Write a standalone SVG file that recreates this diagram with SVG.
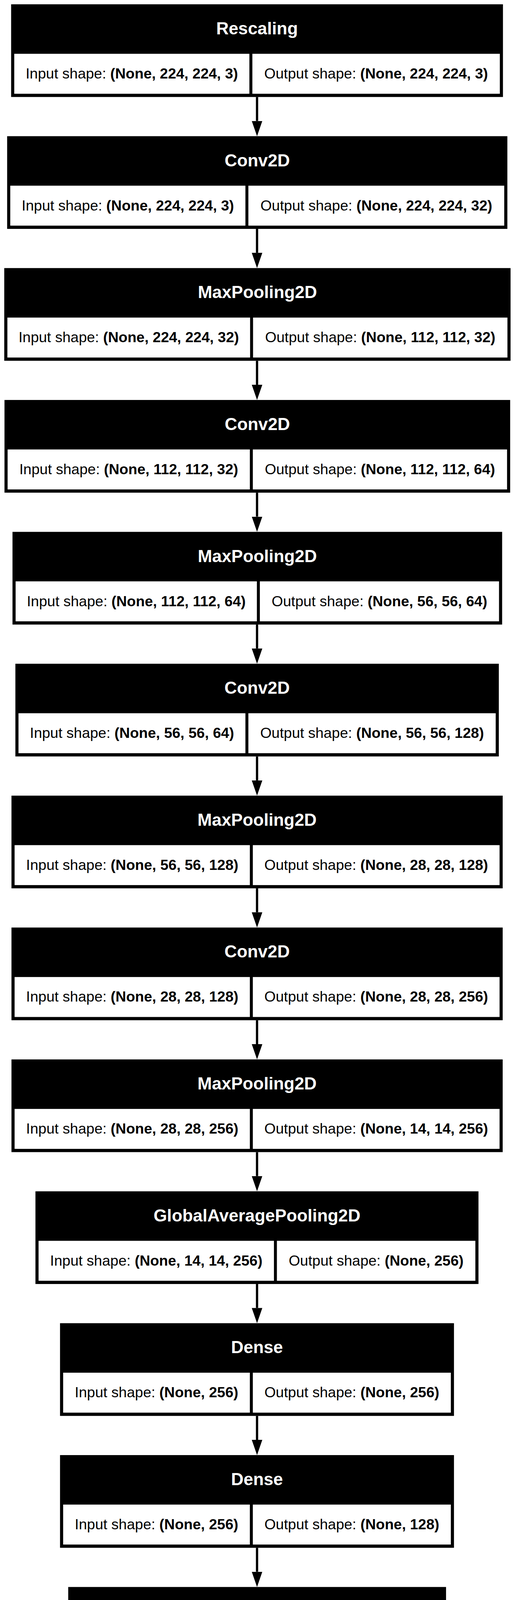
<svg xmlns="http://www.w3.org/2000/svg" width="1317" height="4310" viewBox="0 0 1317 4310">
<defs>
<style>
.box{fill:#000}
.cell{fill:#fff}
.title{font-family:"Liberation Sans",Arial,sans-serif;font-weight:bold;font-size:44.3px;fill:#fff;text-anchor:middle}
.shape{font-family:"Liberation Sans",Arial,sans-serif;font-size:37.5px;fill:#000;text-anchor:middle}
.b{font-weight:bold}
.edge{stroke:#000;stroke-width:5.8;fill:none;marker-end:url(#arrow)}
</style>
<marker id="arrow" markerUnits="userSpaceOnUse" markerWidth="39" markerHeight="27" viewBox="0 0 39 27" refX="0" refY="13.5" orient="auto"><path d="M0,0 L39,13.5 L0,27 z" fill="#000"/></marker>
</defs>
<rect width="1317" height="4310" fill="#fff"/>
<g id="edges">
<line class="edge" x1="658.6" y1="248.3" x2="658.6" y2="309.64"/>
<line class="edge" x1="658.6" y1="585.94" x2="658.6" y2="647.28"/>
<line class="edge" x1="658.6" y1="923.58" x2="658.6" y2="984.92"/>
<line class="edge" x1="658.6" y1="1261.22" x2="658.6" y2="1322.56"/>
<line class="edge" x1="658.6" y1="1598.86" x2="658.6" y2="1660.2"/>
<line class="edge" x1="658.6" y1="1936.5" x2="658.6" y2="1997.84"/>
<line class="edge" x1="658.6" y1="2274.14" x2="658.6" y2="2335.48"/>
<line class="edge" x1="658.6" y1="2611.78" x2="658.6" y2="2673.12"/>
<line class="edge" x1="658.6" y1="2949.42" x2="658.6" y2="3010.76"/>
<line class="edge" x1="658.6" y1="3287.06" x2="658.6" y2="3348.4"/>
<line class="edge" x1="658.6" y1="3624.7" x2="658.6" y2="3686.04"/>
<line class="edge" x1="658.6" y1="3962.34" x2="658.6" y2="4023.68"/>
</g>
<g id="node1">
<rect class="box" x="28.5" y="11" width="1260.2" height="237.3"/>
<rect class="cell" x="36.5" y="137.7" width="602.5" height="102.3"/>
<rect class="cell" x="646.6" y="137.7" width="634.1" height="102.3"/>
<text class="title" x="658.6" y="88">Rescaling</text>
<text class="shape" x="337.75" y="201">Input shape: <tspan class="b">(None, 224, 224, 3)</tspan></text>
<text class="shape" x="963.65" y="201">Output shape: <tspan class="b">(None, 224, 224, 3)</tspan></text>
</g>
<g id="node2">
<rect class="box" x="18.3" y="348.64" width="1281.7" height="237.3"/>
<rect class="cell" x="26.3" y="475.34" width="602.5" height="102.3"/>
<rect class="cell" x="636.4" y="475.34" width="655.6" height="102.3"/>
<text class="title" x="659.15" y="425.64">Conv2D</text>
<text class="shape" x="327.55" y="538.64">Input shape: <tspan class="b">(None, 224, 224, 3)</tspan></text>
<text class="shape" x="964.2" y="538.64">Output shape: <tspan class="b">(None, 224, 224, 32)</tspan></text>
</g>
<g id="node3">
<rect class="box" x="10.9" y="686.28" width="1297.3" height="237.3"/>
<rect class="cell" x="18.9" y="812.98" width="621.9" height="102.3"/>
<rect class="cell" x="648.4" y="812.98" width="651.8" height="102.3"/>
<text class="title" x="659.55" y="763.28">MaxPooling2D</text>
<text class="shape" x="329.85" y="876.28">Input shape: <tspan class="b">(None, 224, 224, 32)</tspan></text>
<text class="shape" x="974.3" y="876.28">Output shape: <tspan class="b">(None, 112, 112, 32)</tspan></text>
</g>
<g id="node4">
<rect class="box" x="11.5" y="1023.92" width="1295.7" height="237.3"/>
<rect class="cell" x="19.5" y="1150.62" width="620.7" height="102.3"/>
<rect class="cell" x="647.8" y="1150.62" width="651.4" height="102.3"/>
<text class="title" x="659.35" y="1100.92">Conv2D</text>
<text class="shape" x="329.85" y="1213.92">Input shape: <tspan class="b">(None, 112, 112, 32)</tspan></text>
<text class="shape" x="973.5" y="1213.92">Output shape: <tspan class="b">(None, 112, 112, 64)</tspan></text>
</g>
<g id="node5">
<rect class="box" x="32" y="1361.56" width="1254.6" height="237.3"/>
<rect class="cell" x="40" y="1488.26" width="618.2" height="102.3"/>
<rect class="cell" x="665.8" y="1488.26" width="612.8" height="102.3"/>
<text class="title" x="659.3" y="1438.56">MaxPooling2D</text>
<text class="shape" x="349.1" y="1551.56">Input shape: <tspan class="b">(None, 112, 112, 64)</tspan></text>
<text class="shape" x="972.2" y="1551.56">Output shape: <tspan class="b">(None, 56, 56, 64)</tspan></text>
</g>
<g id="node6">
<rect class="box" x="39.4" y="1699.2" width="1238.7" height="237.3"/>
<rect class="cell" x="47.4" y="1825.9" width="581.4" height="102.3"/>
<rect class="cell" x="636.4" y="1825.9" width="633.7" height="102.3"/>
<text class="title" x="658.75" y="1776.2">Conv2D</text>
<text class="shape" x="338.1" y="1889.2">Input shape: <tspan class="b">(None, 56, 56, 64)</tspan></text>
<text class="shape" x="953.25" y="1889.2">Output shape: <tspan class="b">(None, 56, 56, 128)</tspan></text>
</g>
<g id="node7">
<rect class="box" x="29.4" y="2036.84" width="1258.6" height="237.3"/>
<rect class="cell" x="37.4" y="2163.54" width="602.8" height="102.3"/>
<rect class="cell" x="647.8" y="2163.54" width="632.2" height="102.3"/>
<text class="title" x="658.7" y="2113.84">MaxPooling2D</text>
<text class="shape" x="338.8" y="2226.84">Input shape: <tspan class="b">(None, 56, 56, 128)</tspan></text>
<text class="shape" x="963.9" y="2226.84">Output shape: <tspan class="b">(None, 28, 28, 128)</tspan></text>
</g>
<g id="node8">
<rect class="box" x="29.4" y="2374.48" width="1258.6" height="237.3"/>
<rect class="cell" x="37.4" y="2501.18" width="602.8" height="102.3"/>
<rect class="cell" x="647.8" y="2501.18" width="632.2" height="102.3"/>
<text class="title" x="658.7" y="2451.48">Conv2D</text>
<text class="shape" x="338.8" y="2564.48">Input shape: <tspan class="b">(None, 28, 28, 128)</tspan></text>
<text class="shape" x="963.9" y="2564.48">Output shape: <tspan class="b">(None, 28, 28, 256)</tspan></text>
</g>
<g id="node9">
<rect class="box" x="29.4" y="2712.12" width="1258.6" height="237.3"/>
<rect class="cell" x="37.4" y="2838.82" width="602.8" height="102.3"/>
<rect class="cell" x="647.8" y="2838.82" width="632.2" height="102.3"/>
<text class="title" x="658.7" y="2789.12">MaxPooling2D</text>
<text class="shape" x="338.8" y="2902.12">Input shape: <tspan class="b">(None, 28, 28, 256)</tspan></text>
<text class="shape" x="963.9" y="2902.12">Output shape: <tspan class="b">(None, 14, 14, 256)</tspan></text>
</g>
<g id="node10">
<rect class="box" x="90.8" y="3049.76" width="1135.2" height="237.3"/>
<rect class="cell" x="98.8" y="3176.46" width="603.1" height="102.3"/>
<rect class="cell" x="709.5" y="3176.46" width="508.5" height="102.3"/>
<text class="title" x="658.4" y="3126.76">GlobalAveragePooling2D</text>
<text class="shape" x="400.35" y="3239.76">Input shape: <tspan class="b">(None, 14, 14, 256)</tspan></text>
<text class="shape" x="963.75" y="3239.76">Output shape: <tspan class="b">(None, 256)</tspan></text>
</g>
<g id="node11">
<rect class="box" x="153.8" y="3387.4" width="1009.4" height="237.3"/>
<rect class="cell" x="161.8" y="3514.1" width="478.4" height="102.3"/>
<rect class="cell" x="647.8" y="3514.1" width="507.4" height="102.3"/>
<text class="title" x="658.5" y="3464.4">Dense</text>
<text class="shape" x="401" y="3577.4">Input shape: <tspan class="b">(None, 256)</tspan></text>
<text class="shape" x="901.5" y="3577.4">Output shape: <tspan class="b">(None, 256)</tspan></text>
</g>
<g id="node12">
<rect class="box" x="153.8" y="3725.04" width="1009.4" height="237.3"/>
<rect class="cell" x="161.8" y="3851.74" width="478.4" height="102.3"/>
<rect class="cell" x="647.8" y="3851.74" width="507.4" height="102.3"/>
<text class="title" x="658.5" y="3802.04">Dense</text>
<text class="shape" x="401" y="3915.04">Input shape: <tspan class="b">(None, 256)</tspan></text>
<text class="shape" x="901.5" y="3915.04">Output shape: <tspan class="b">(None, 128)</tspan></text>
</g>
<g id="node13">
<rect class="box" x="174.8" y="4062.68" width="968.1" height="237.3"/>
<rect class="cell" x="182.8" y="4189.38" width="478.4" height="102.3"/>
<rect class="cell" x="668.8" y="4189.38" width="466.1" height="102.3"/>
<text class="title" x="658.85" y="4139.68">Dense</text>
<text class="shape" x="422" y="4252.68">Input shape: <tspan class="b">(None, 128)</tspan></text>
<text class="shape" x="901.85" y="4252.68">Output shape: <tspan class="b">(None, 6)</tspan></text>
</g>
</svg>
